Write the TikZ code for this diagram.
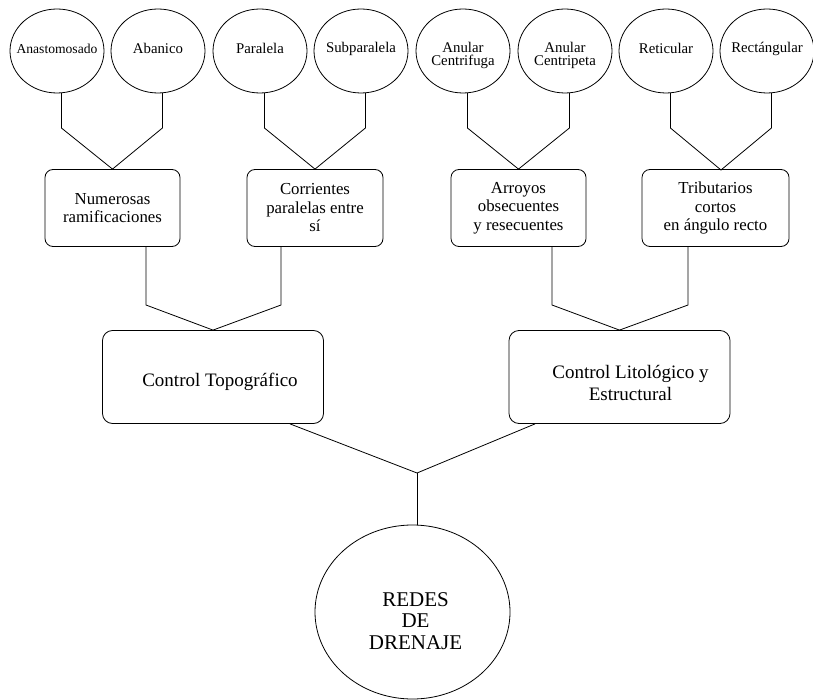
\documentclass[tikz,border=0pt]{standalone}
\usepackage{fontspec}
\setmainfont{Liberation Serif}
\usetikzlibrary{shapes.geometric}
\begin{document}
\begin{tikzpicture}[x=1pt,y=-1pt,line width=0.8pt,
  leaf/.style={draw,ellipse,inner sep=0pt,minimum width=94pt,minimum height=84pt},
  leaftext/.style={font=\fontsize{14.8}{13.5}\selectfont,align=center,yshift=2.5pt},
  tbox/.style={draw,rectangle,rounded corners=8pt,minimum width=136pt,minimum height=77pt,
    align=center,font=\fontsize{16.8}{18.5}\selectfont},
  cbox/.style={draw,rectangle,rounded corners=10pt,minimum width=221pt,minimum height=93pt},
  ctext/.style={font=\fontsize{19}{22}\selectfont,align=center},
  rootnode/.style={draw,ellipse,inner sep=0pt,minimum width=195pt,minimum height=174pt},
  roottext/.style={font=\fontsize{21}{21.5}\selectfont,align=center},
  link/.style={line width=0.8pt}]
\useasboundingbox (0,0) rectangle (813,700);

% drainage patterns
\node[leaf,label={[leaftext,font=\fontsize{13.6}{13.5}\selectfont]center:Anastomosado}] (e1) at (57,51) {};
\node[leaf,label={[leaftext]center:Abanico}] (e2) at (158,51) {};
\node[leaf,label={[leaftext]center:Paralela}] (e3) at (260,51) {};
\node[leaf,label={[leaftext]center:Subparalela}] (e4) at (361,51) {};
\node[leaf,label={[leaftext,yshift=-7pt]center:Anular\\Centrifuga}] (e5) at (463,51) {};
\node[leaf,label={[leaftext,yshift=-7pt]center:Anular\\Centripeta}] (e6) at (565,51) {};
\node[leaf,label={[leaftext]center:Reticular}] (e7) at (666,51) {};
\node[leaf,label={[leaftext]center:Rectángular}] (e8) at (767,51) {};

% characteristics
\node[tbox,minimum width=135pt] (b1) at (112.5,208) {Numerosas\\ramificaciones};
\node[tbox] (b2) at (315,208) {Corrientes\\paralelas entre\\sí};
\node[tbox,minimum width=135pt] (b3) at (518.5,208) {Arroyos\\obsecuentes\\y resecuentes};
\node[tbox,minimum width=147pt] (b4) at (715.5,208) {Tributarios\\cortos\\en ángulo recto};

% controls
\node[cbox,label={[ctext,xshift=7pt,yshift=-5pt]center:Control Topográfico}] (c1) at (213,377) {};
\node[cbox,label={[ctext,xshift=11pt,yshift=-6pt]center:Control Litológico y\\Estructural}] (c2) at (619.5,377) {};

% root
\node[rootnode,label={[roottext,xshift=3pt,yshift=-9pt]center:REDES\\DE\\DRENAJE}] (r) at (412.5,612) {};

% bend levels
\coordinate (ya) at (0,128);
\coordinate (yb) at (0,305);
\coordinate (yc) at (417,473);
\coordinate (j4) at (721,170);

% ellipses to characteristic boxes
\draw[link] (e1.-84) -- (e1.-84 |- ya) -- (b1.north) -- (e2.-84 |- ya) -- (e2.-84);
\draw[link] (e3.-84) -- (e3.-84 |- ya) -- (b2.north) -- (e4.-84 |- ya) -- (e4.-84);
\draw[link] (e5.-84) -- (e5.-84 |- ya) -- (b3.north) -- (e6.-84 |- ya) -- (e6.-84);
\draw[link] (e7.-84) -- (e7.-84 |- ya) -- (j4) -- (e8.-84 |- ya) -- (e8.-84);

% characteristic boxes to controls
\draw[link] ([xshift=33.5pt]b1.south) -- ([xshift=33.5pt]b1.south |- yb) -- (c1.north)
  -- ([xshift=-34pt]b2.south |- yb) -- ([xshift=-34pt]b2.south);
\draw[link] ([xshift=33.5pt]b3.south) -- ([xshift=33.5pt]b3.south |- yb) -- (c2.north)
  -- ([xshift=-27.5pt]b4.south |- yb) -- ([xshift=-27.5pt]b4.south);

% controls to root
\draw[link] ([xshift=77pt]c1.south) -- (yc) -- ([xshift=-84.5pt]c2.south);
\draw[link] (yc) -- (yc |- r.north);
\end{tikzpicture}
\end{document}
